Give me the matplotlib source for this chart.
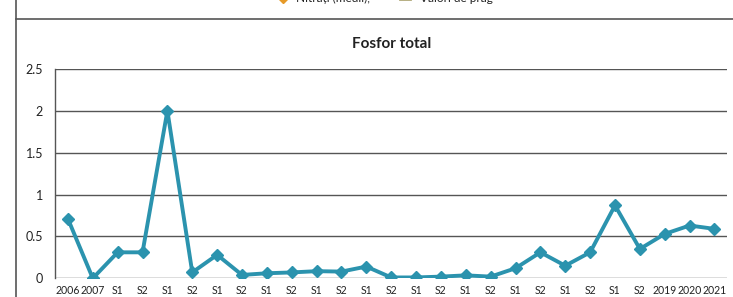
import matplotlib.pyplot as plt
from matplotlib.lines import Line2D

# -----------------------------
# DATA
# -----------------------------
labels = ["2006", "2007", "S1", "S2", "S1", "S2", "S1", "S2", "S1", "S2",
          "S1", "S2", "S1", "S2", "S1", "S2", "S1", "S2", "S1", "S2",
          "S1", "S2", "S1", "S2", "2019", "2020", "2021"]
fosfor = [0.71, 0.0, 0.31, 0.31, 2.0, 0.07, 0.28, 0.04, 0.06, 0.07,
          0.085, 0.08, 0.14, 0.01, 0.01, 0.02, 0.035, 0.02, 0.12, 0.31,
          0.15, 0.31, 0.87, 0.35, 0.53, 0.63, 0.59]
yticks = [0, 0.5, 1, 1.5, 2, 2.5]
ytick_labels = ["0", "0.5", "1", "1.5", "2", "2.5"]

line_color = "#2b93ae"
grid_color = "#555555"

# -----------------------------
# FIGURE
# -----------------------------
fig = plt.figure(figsize=(7.33, 2.97), dpi=100)
ax = fig.add_axes([0.0757, 0.063, 0.916, 0.705])

x = list(range(len(fosfor)))
ax.plot(x, fosfor, color=line_color, lw=2.8, marker="D", markersize=6.5,
        markerfacecolor=line_color, markeredgecolor=line_color, zorder=3)

ax.set_xlim(-0.5, len(fosfor) - 0.5)
ax.set_ylim(0, 2.5)
ax.set_yticks(yticks)
ax.set_yticklabels(ytick_labels, fontsize=9, family="Lato", color="#222222")
ax.set_xticks(x)
ax.set_xticklabels(labels, fontsize=7.6, family="Lato", color="#222222")
ax.tick_params(length=0)
ax.tick_params(axis="x", pad=4.5)
ax.tick_params(axis="y", pad=9)

ax.grid(axis="y", color=grid_color, lw=1.0)
ax.set_axisbelow(True)
for side in ["top", "right", "bottom"]:
    ax.spines[side].set_visible(False)
ax.spines["left"].set_color(grid_color)
ax.spines["left"].set_linewidth(1.0)

ax.set_title("Fosfor total", fontsize=11, fontweight="bold", family="Lato",
             color="#222222", pad=15)

# page border lines from the scanned document
fig.add_artist(Line2D([16 / 733, 16 / 733], [0, 1], color="#555555", lw=1.2))
fig.add_artist(Line2D([16 / 733, 1], [1 - 19 / 297, 1 - 19 / 297],
                      color="#555555", lw=1.2))

# cut-off legend of the chart above
fig.add_artist(Line2D([283 / 733], [1 + 1 / 297], marker="D", markersize=4,
                      color="#e69a28", lw=0))
fig.text(296 / 733, 1 - 2 / 297, "Nitrați (medii),", fontsize=8.5,
         family="Lato", va="baseline", color="#222222")
fig.add_artist(Line2D([400 / 733, 410 / 733], [1 + 1 / 297, 1 + 1 / 297],
                      color="#b0a878", lw=2))
fig.text(420 / 733, 1 - 2 / 297, "Valori de prag", fontsize=8.5,
         family="Lato", va="baseline", color="#222222")

fig.savefig("out.png", dpi=100)
